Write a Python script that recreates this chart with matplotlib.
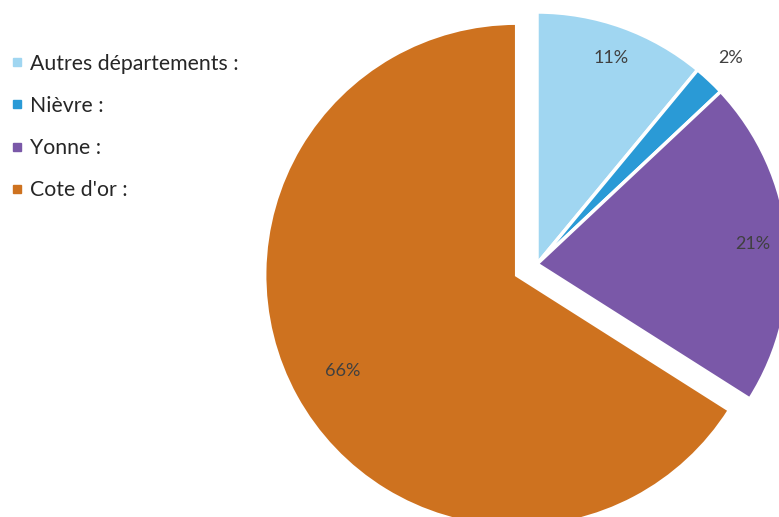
import matplotlib
matplotlib.use("Agg")
import matplotlib.pyplot as plt
from matplotlib.lines import Line2D
import numpy as np

# Data
categories = ["Autres départements :", "Nièvre :", "Yonne :", "Cote d'or :"]
values = [11, 2, 21, 66]
pct_labels = ["11%", "2%", "21%", "66%"]

# Styles
colors = ["#A0D6F1", "#2A9AD6", "#7A58A8", "#CE721F"]
explode = [0, 0, 0, 0.092]
label_dist = [0.87, 1.12, 0.86, 0.79]

plt.rcParams['font.family'] = ['Lato', 'DejaVu Sans']

W, H = 779, 517
fig = plt.figure(figsize=(W / 100, H / 100), dpi=100)
fig.patch.set_facecolor("white")

R = 252
cx, cy = 537, H - 264
ax = fig.add_axes([(cx - R) / W, (cy - R) / H, 2 * R / W, 2 * R / H])

wedges, _ = ax.pie(values, colors=colors, startangle=90, counterclock=False,
                   explode=explode, radius=1,
                   wedgeprops=dict(edgecolor="white", linewidth=2.5))
ax.set_xlim(-1, 1)
ax.set_ylim(-1, 1)
ax.set_aspect("equal")
ax.axis("off")
for w in wedges:
    w.set_clip_on(False)

for w, lab, d in zip(wedges, pct_labels, label_dist):
    ang = np.deg2rad((w.theta1 + w.theta2) / 2)
    x0, y0 = w.center
    ax.text(x0 + d * np.cos(ang), y0 + d * np.sin(ang), lab,
            ha="center", va="center", fontsize=13, color="#404040",
            clip_on=False)

handles = [Line2D([0], [0], marker="s", linestyle="none", markersize=6,
                  markerfacecolor=c, markeredgecolor=c) for c in colors]
fig.legend(handles, categories, loc="upper left",
           bbox_to_anchor=(2 / W, 1 - 45 / H), frameon=False,
           fontsize=15.3, handlelength=0.6, handletextpad=0.3,
           labelspacing=1.05, borderaxespad=0, labelcolor="#262626")

fig.savefig("out.png", dpi=100, facecolor="white")
